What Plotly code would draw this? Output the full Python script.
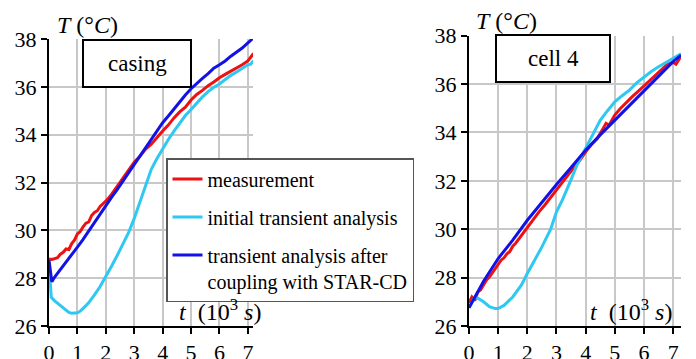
import plotly.graph_objects as go

# ---------------- data (t in 10^3 s, T in °C) ----------------
# Left panel: casing
t_cas_meas = [0, 0.1, 0.2, 0.3, 0.4, 0.5, 0.6, 0.7, 0.8, 0.9, 1.0, 1.1, 1.2, 1.3, 1.4, 1.5,
              1.6, 1.7, 1.8, 1.9, 2.0, 2.2, 2.4, 2.6, 2.8, 3.0, 3.2, 3.4, 3.6, 3.8, 4.0,
              4.2, 4.4, 4.6, 4.8, 5.0, 5.2, 5.4, 5.6, 5.8, 6.0, 6.2, 6.4, 6.6, 6.8, 7.0, 7.1, 7.2]
T_cas_meas = [28.8, 28.78, 28.82, 28.86, 29.0, 29.08, 29.22, 29.2, 29.45, 29.6, 29.85, 29.95,
              30.15, 30.3, 30.35, 30.62, 30.75, 30.82, 31.0, 31.1, 31.22, 31.5, 31.85, 32.15,
              32.5, 32.85, 33.1, 33.4, 33.6, 33.9, 34.15, 34.4, 34.7, 34.95, 35.15, 35.45,
              35.68, 35.85, 36.05, 36.2, 36.38, 36.52, 36.65, 36.78, 36.92, 37.08, 37.22, 37.4]

t_cas_init = [0, 0.08, 0.2, 0.3, 0.4, 0.5, 0.6, 0.7, 0.8, 0.9, 1.0, 1.1, 1.2, 1.3, 1.4, 1.5,
              1.6, 1.8, 2.0, 2.2, 2.4, 2.6, 2.8, 3.0, 3.2, 3.4, 3.6, 3.8, 4.0, 4.2, 4.4, 4.6,
              4.8, 5.0, 5.2, 5.4, 5.6, 5.8, 6.0, 6.2, 6.4, 6.6, 6.8, 7.0, 7.1, 7.2]
T_cas_init = [28.6, 27.2, 27.05, 26.95, 26.85, 26.75, 26.65, 26.57, 26.53, 26.53, 26.55, 26.62,
              26.72, 26.85, 26.98, 27.12, 27.3, 27.65, 28.05, 28.5, 28.95, 29.4, 29.9, 30.5,
              31.2, 31.9, 32.55, 33.0, 33.42, 33.8, 34.15, 34.5, 34.8, 35.05, 35.32, 35.58,
              35.8, 35.98, 36.12, 36.3, 36.48, 36.62, 36.76, 36.92, 36.95, 37.1]

t_cas_cpl = [0, 0.1, 0.2, 0.4, 0.6, 0.8, 1.0, 1.2, 1.4, 1.6, 1.8, 2.0, 2.2, 2.4, 2.6, 2.8,
             3.0, 3.2, 3.4, 3.6, 3.8, 4.0, 4.2, 4.4, 4.6, 4.8, 5.0, 5.2, 5.4, 5.6, 5.8, 6.0,
             6.2, 6.4, 6.6, 6.8, 7.0, 7.2]
T_cas_cpl = [28.75, 27.85, 28.05, 28.35, 28.7, 29.0, 29.3, 29.62, 29.98, 30.35, 30.68, 31.02,
             31.38, 31.7, 32.05, 32.42, 32.78, 33.15, 33.5, 33.85, 34.2, 34.5, 34.78, 35.08,
             35.38, 35.66, 35.92, 36.15, 36.35, 36.55, 36.78, 36.92, 37.08, 37.28, 37.46,
             37.62, 37.84, 38.05]

# Right panel: cell 4
t_c4_meas = [0, 0.1, 0.2, 0.3, 0.4, 0.5, 0.6, 0.7, 0.8, 0.9, 1.0, 1.1, 1.2, 1.3, 1.4, 1.5,
             1.6, 1.7, 1.8, 1.9, 2.0, 2.2, 2.4, 2.6, 2.8, 3.0, 3.2, 3.4, 3.6, 3.8, 4.0, 4.2,
             4.4, 4.6, 4.7, 4.8, 5.0, 5.2, 5.4, 5.6, 5.8, 6.0, 6.2, 6.4, 6.6, 6.8, 7.0, 7.1, 7.27]
T_c4_meas = [26.95, 27.2, 27.05, 27.4, 27.5, 27.68, 27.9, 28.02, 28.2, 28.38, 28.55, 28.72,
             28.82, 28.98, 29.08, 29.3, 29.42, 29.58, 29.75, 29.9, 30.1, 30.4, 30.72, 31.0,
             31.32, 31.65, 31.95, 32.25, 32.55, 32.85, 33.2, 33.5, 33.75, 34.2, 34.38, 34.3,
             34.72, 35.0, 35.25, 35.48, 35.7, 35.92, 36.15, 36.4, 36.58, 36.82, 36.9, 36.82, 37.15]

t_c4_init = [0, 0.1, 0.2, 0.3, 0.5, 0.7, 0.9, 1.0, 1.2, 1.5, 1.8, 2.0, 2.2, 2.5, 2.8, 3.0,
             3.2, 3.35, 3.5, 3.7, 3.85, 4.0, 4.25, 4.5, 4.75, 5.0, 5.25, 5.5, 5.75, 6.0,
             6.25, 6.5, 6.75, 7.0, 7.27]
T_c4_init = [26.75, 27.0, 27.2, 27.15, 27.0, 26.8, 26.72, 26.72, 26.85, 27.2, 27.7, 28.17,
             28.6, 29.27, 30.0, 30.72, 31.2, 31.6, 32.05, 32.65, 33.0, 33.35, 33.95, 34.5,
             34.9, 35.27, 35.52, 35.75, 36.05, 36.3, 36.52, 36.72, 36.9, 37.07, 37.25]

t_c4_cpl = [0, 0.5, 1.0, 1.5, 2.0, 2.5, 3.0, 3.5, 4.0, 4.5, 5.0, 5.5, 6.0, 6.5, 7.0, 7.27]
T_c4_cpl = [26.75, 27.85, 28.79, 29.55, 30.37, 31.13, 31.85, 32.55, 33.27, 33.9, 34.51,
            35.12, 35.75, 36.35, 36.93, 37.2]

x_ticks = [0, 1, 2, 3, 4, 5, 6, 7]
y_ticks = [26, 28, 30, 32, 34, 36, 38]
names = ["measurement", "initial transient analysis",
         "transient analysis after<br>coupling with STAR-CD"]
colors = ["#ee1111", "#2ec8f2", "#1212e6"]

FONT = "Liberation Serif, Times New Roman, serif"

fig = go.Figure()

left = [(t_cas_meas, T_cas_meas), (t_cas_init, T_cas_init), (t_cas_cpl, T_cas_cpl)]
right = [(t_c4_meas, T_c4_meas), (t_c4_init, T_c4_init), (t_c4_cpl, T_c4_cpl)]
for i, (tx, ty) in enumerate(left):
    fig.add_trace(go.Scatter(x=tx, y=ty, mode="lines", name=names[i],
                             line=dict(color=colors[i], width=3),
                             legendgroup=f"g{i}", legendrank=i + 1,
                             xaxis="x", yaxis="y", showlegend=True))
for i, (tx, ty) in enumerate(right):
    fig.add_trace(go.Scatter(x=tx, y=ty, mode="lines", name=names[i],
                             line=dict(color=colors[i], width=3),
                             legendgroup=f"g{i}",
                             xaxis="x2", yaxis="y2", showlegend=False))

W, H = 696, 359
def px(x):
    return x / W
def py(y):
    return 1 - y / H

axis_common = dict(
    showgrid=True, gridcolor="#c8c8c8", gridwidth=1.5,
    showline=True, linecolor="black", linewidth=2,
    ticks="outside", ticklen=6, tickwidth=1.5, tickcolor="black",
    tickfont=dict(family=FONT, size=22, color="black"),
    zeroline=False, fixedrange=True, automargin=False,
)

fig.update_layout(
    width=W, height=H,
    font=dict(family=FONT, size=22, color="black"),
    margin=dict(l=0, r=0, t=0, b=0, autoexpand=False),
    paper_bgcolor="white", plot_bgcolor="white",
    showlegend=True,
    xaxis=dict(domain=[px(49), px(253)], range=[0, 7.18], tickvals=x_ticks,
               anchor="y", ticklabelstandoff=0, **axis_common),
    yaxis=dict(domain=[py(326), py(39)], range=[26, 38], tickvals=y_ticks,
               anchor="x", **axis_common),
    xaxis2=dict(domain=[px(469), px(681)], range=[0, 7.27], tickvals=x_ticks,
                anchor="y2", ticklabelstandoff=0, **axis_common),
    yaxis2=dict(domain=[py(326), py(35.7)], range=[26, 38], tickvals=y_ticks,
                anchor="x2", **axis_common),
    legend=dict(x=px(166), y=py(158), xanchor="left", yanchor="top",
                bgcolor="white", bordercolor="#555555", borderwidth=1.5,
                font=dict(family=FONT, size=20, color="black"),
                traceorder="grouped", tracegroupgap=9, itemwidth=30,
                valign="top"),
)

# label boxes
fig.add_shape(type="rect", xref="paper", yref="paper",
              x0=px(83), x1=px(191), y0=py(87), y1=py(40),
              line=dict(color="black", width=2), fillcolor="white", layer="above")
fig.add_shape(type="rect", xref="paper", yref="paper",
              x0=px(496), x1=px(610), y0=py(82), y1=py(35),
              line=dict(color="black", width=2), fillcolor="white", layer="above")

ann_font = dict(family=FONT, size=23, color="black")
fig.add_annotation(x=px(137), y=py(64), xref="paper", yref="paper", text="casing",
                   xanchor="center", yanchor="middle", showarrow=False, font=ann_font)
fig.add_annotation(x=px(553), y=py(59), xref="paper", yref="paper", text="cell 4",
                   xanchor="center", yanchor="middle", showarrow=False, font=ann_font)

title_font = dict(family=FONT, size=24, color="black")
for cx, cy in [(87, 25), (506, 21)]:
    fig.add_annotation(x=px(cx), y=py(cy), xref="paper", yref="paper",
                       text="<i>T</i> (°<i>C</i>)", xanchor="center", yanchor="middle",
                       showarrow=False, font=title_font)
for cx, cy in [(220, 310), (631, 310)]:
    fig.add_annotation(x=px(cx), y=py(cy), xref="paper", yref="paper",
                       text="<i>t</i>  (10<sup>3</sup> <i>s</i>)", xanchor="center",
                       yanchor="middle", showarrow=False, font=title_font)

fig.write_html("out.html")
